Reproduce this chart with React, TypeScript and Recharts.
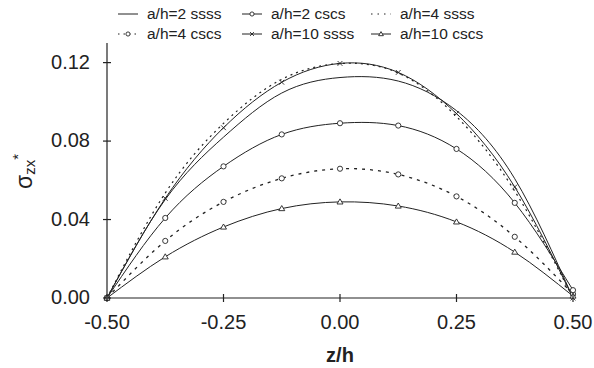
import React from "react";
import { LineChart, Line, XAxis, YAxis, Label } from "recharts";

// z/h positions
const Z = [-0.5, -0.375, -0.25, -0.125, 0, 0.125, 0.25, 0.375, 0.5];

// series values (sigma_zx*)
const AH2_SSSS = [0, 0.0502, 0.082, 0.1045, 0.1124, 0.1106, 0.0955, 0.0608, 0];
const AH2_CSCS = [0, 0.0408, 0.0671, 0.0834, 0.0891, 0.0879, 0.076, 0.0485, 0.004];
const AH4_SSSS = [0, 0.0535, 0.089, 0.1115, 0.1195, 0.1147, 0.0925, 0.0545, 0];
const AH4_CSCS = [0, 0.0291, 0.049, 0.061, 0.0659, 0.063, 0.0518, 0.0312, 0.002];
const AH10_SSSS = [0, 0.0508, 0.0868, 0.11, 0.1196, 0.115, 0.094, 0.0566, 0];
const AH10_CSCS = [0, 0.021, 0.0362, 0.0456, 0.049, 0.0469, 0.0388, 0.0234, 0.001];

const X_TICKS = [-0.5, -0.25, 0, 0.25, 0.5];
const Y_TICKS = [0, 0.04, 0.08, 0.12];
const LABELS = ["a/h=2 ssss", "a/h=2 cscs", "a/h=4 ssss", "a/h=4 cscs", "a/h=10 ssss", "a/h=10 cscs"];

const INK = "#222";
const FONT = "'Liberation Sans', Arial, Helvetica, sans-serif";

const rows = (zs: number[], vs: number[]) => zs.map((z, i) => ({ z, v: vs[i] }));

type Marker = "none" | "circle" | "x" | "triangle";

const drawMarker = (m: Marker, cx: number, cy: number, key: string, s = 1) => {
  if (m === "circle")
    return <circle key={key} cx={cx} cy={cy} r={2.6 * s} fill="#fff" stroke={INK} strokeWidth={0.9} />;
  if (m === "triangle") {
    const r = 3 * s;
    return (
      <polygon
        key={key}
        points={`${cx},${cy - r} ${cx - r},${cy + r * 0.7} ${cx + r},${cy + r * 0.7}`}
        fill="#fff"
        stroke={INK}
        strokeWidth={0.9}
      />
    );
  }
  if (m === "x") {
    const r = 2.4 * s;
    return (
      <g key={key}>
        <line x1={cx - r} y1={cy - r} x2={cx + r} y2={cy + r} stroke={INK} strokeWidth={0.9} />
        <line x1={cx - r} y1={cy + r} x2={cx + r} y2={cy - r} stroke={INK} strokeWidth={0.9} />
      </g>
    );
  }
  return <g key={key} />;
};

const SERIES: { name: string; data: { z: number; v: number }[]; dash?: string; width: number; marker: Marker }[] = [
  { name: LABELS[0], data: rows(Z, AH2_SSSS), marker: "none", width: 1 },
  { name: LABELS[2], data: rows(Z, AH4_SSSS), dash: "2 4", marker: "none", width: 1.2 },
  { name: LABELS[4], data: rows(Z, AH10_SSSS), marker: "x", width: 1 },
  { name: LABELS[3], data: rows(Z, AH4_CSCS), dash: "3 5", marker: "circle", width: 1.3 },
  { name: LABELS[1], data: rows(Z, AH2_CSCS), marker: "circle", width: 1 },
  { name: LABELS[5], data: rows(Z, AH10_CSCS), marker: "triangle", width: 1 },
];

const LEGEND_ORDER = [0, 4, 1, 3, 2, 5].map((i) => SERIES[i]);

const XTick = (props: any) => {
  const { x, y, payload } = props;
  return (
    <g>
      <line x1={x} x2={x} y1={y - 20} y2={y - 12} stroke={INK} strokeWidth={1.2} />
      <text x={x} y={y} dy={15} textAnchor="middle" fontSize={20} fontFamily={FONT} fill={INK}>
        {Number(payload.value).toFixed(2)}
      </text>
    </g>
  );
};

const YTick = (props: any) => {
  const { x, y, payload } = props;
  return (
    <g>
      <line x1={x + 13} x2={x + 21} y1={y} y2={y} stroke={INK} strokeWidth={1.2} />
      <text x={x} y={y} dy={6} textAnchor="end" fontSize={20} fontFamily={FONT} fill={INK}>
        {Number(payload.value).toFixed(2)}
      </text>
    </g>
  );
};

const YLabel = (props: any) => {
  const vb = props.viewBox || { x: 47, y: 43, width: 60, height: 255 };
  const x = vb.x - 15;
  const y = vb.y + vb.height / 2 + 1;
  return (
    <text
      x={x}
      y={y}
      transform={`rotate(-90, ${x}, ${y})`}
      textAnchor="middle"
      fontFamily={FONT}
      fill={INK}
      fontSize={23}
    >
      σ
      <tspan fontSize={15} dy={3}>zx</tspan>
      <tspan fontSize={15} dy={-12}>*</tspan>
    </text>
  );
};

const XLabel = (props: any) => {
  const vb = props.viewBox || { x: 107, y: 298, width: 466, height: 30 };
  return (
    <text
      x={vb.x + vb.width / 2}
      y={vb.y + 64}
      textAnchor="middle"
      fontFamily={FONT}
      fontWeight="bold"
      fontSize={20}
      fill={INK}
    >
      z/h
    </text>
  );
};

const LegendOverlay = () => {
  const colX = [118, 242, 371];
  const rowY = [14, 34];
  return (
    <svg width={594} height={46} style={{ position: "absolute", left: 0, top: 0, pointerEvents: "none" }}>
      {LEGEND_ORDER.map((s, i) => {
        const cx = colX[i % 3];
        const cy = rowY[Math.floor(i / 3)];
        const w = 20;
        return (
          <g key={s.name}>
            <line
              x1={cx}
              x2={cx + w}
              y1={cy}
              y2={cy}
              stroke={INK}
              strokeWidth={1}
              strokeDasharray={s.dash ? (s.marker === "circle" ? "1.5 4" : "1.5 5") : undefined}
            />
            {drawMarker(s.marker, cx + w / 2, cy, "m" + i, 0.8)}
            <text x={cx + 29} y={cy + 5} fontSize={15.5} fontFamily={FONT} fill={INK}>
              {s.name}
            </text>
          </g>
        );
      })}
    </svg>
  );
};

export default function App() {
  return (
    <div style={{ position: "absolute", left: 0, top: 0, width: 594, height: 368, background: "#fff" }}>
      <LineChart width={594} height={368} margin={{ top: 43, right: 21, bottom: 40, left: 47 }}>
        <XAxis
          type="number"
          dataKey="z"
          domain={[-0.5, 0.5]}
          ticks={X_TICKS}
          height={30}
          tickLine={false}
          tickSize={4}
          tickMargin={12}
          tick={<XTick />}
          axisLine={{ stroke: INK, strokeWidth: 1.2 }}
          allowDuplicatedCategory={false}
        >
          <Label content={<XLabel />} />
        </XAxis>
        <YAxis
          type="number"
          domain={[0, 0.13]}
          ticks={Y_TICKS}
          width={60}
          tickLine={false}
          tickSize={4}
          tickMargin={13}
          tick={<YTick />}
          axisLine={{ stroke: INK, strokeWidth: 1.2 }}
        >
          <Label content={<YLabel />} />
        </YAxis>
        {SERIES.map((s) => (
          <Line
            key={s.name}
            name={s.name}
            data={s.data}
            dataKey="v"
            type="natural"
            stroke={INK}
            strokeWidth={s.width}
            strokeDasharray={s.dash}
            dot={
              s.marker === "none"
                ? false
                : (p: any) => drawMarker(s.marker, p.cx, p.cy, `${s.name}-${p.index}`)
            }
            activeDot={false}
            isAnimationActive={false}
          />
        ))}
      </LineChart>
      <LegendOverlay />
    </div>
  );
}
